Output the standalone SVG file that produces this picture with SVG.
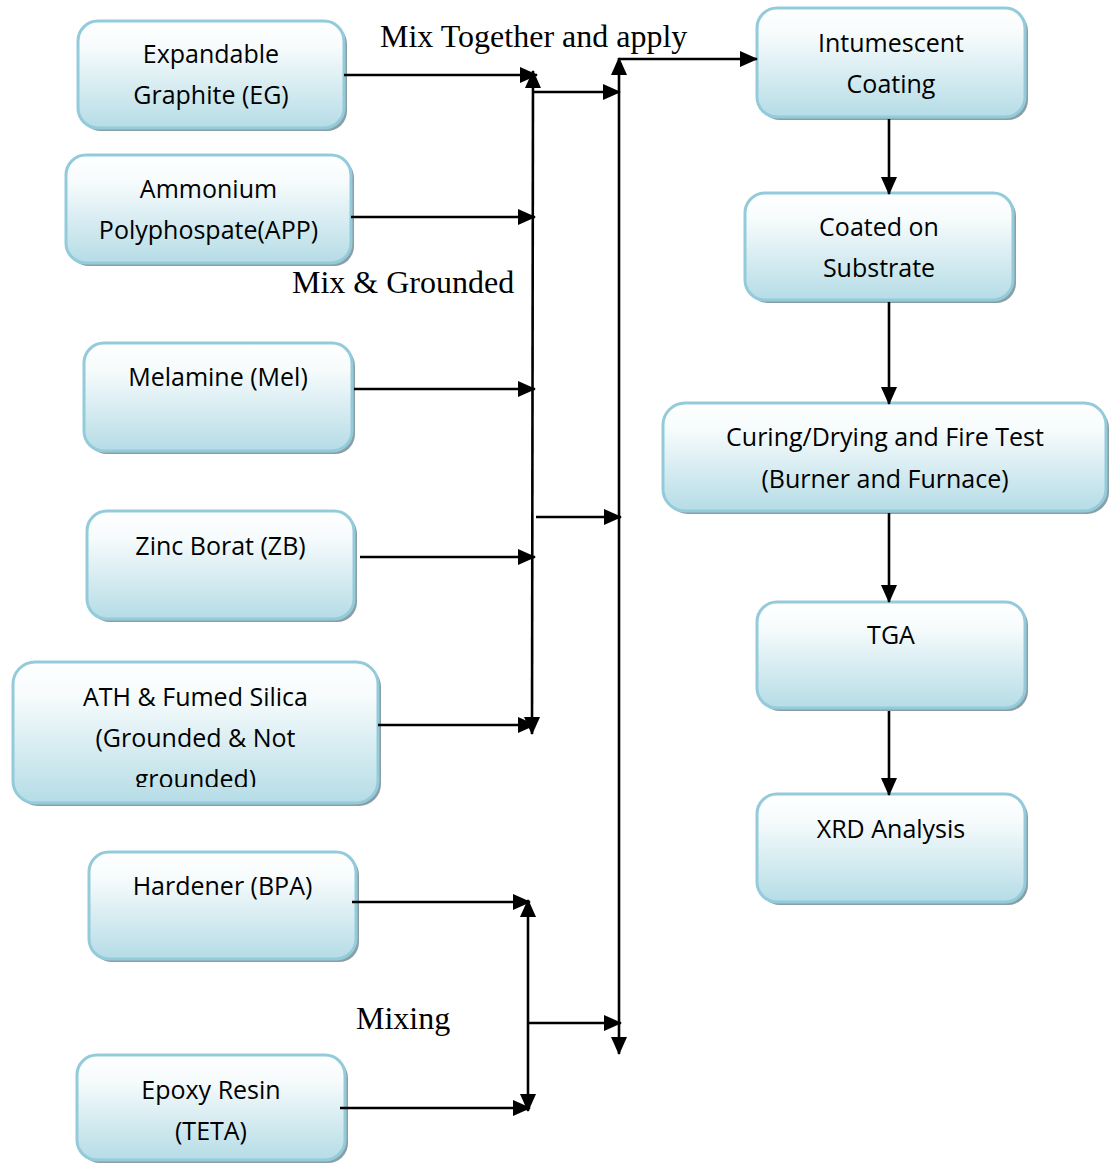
<svg xmlns="http://www.w3.org/2000/svg" width="1112" height="1164" viewBox="0 0 1112 1164">
<defs>
<linearGradient id="g" x1="0" y1="0" x2="0" y2="1">
<stop offset="0" stop-color="#ffffff"/>
<stop offset="0.25" stop-color="#f6fbfc"/>
<stop offset="1" stop-color="#b5dce6"/>
</linearGradient>
<marker id="ah" markerUnits="userSpaceOnUse" markerWidth="18" markerHeight="16" viewBox="0 0 18 16" refX="17" refY="8" orient="auto-start-reverse">
<path d="M0,0 L18,8 L0,16 z" fill="#000"/>
</marker>
<clipPath id="athclip"><rect x="0" y="660" width="400" height="127"/></clipPath>
</defs>
<style>
.sh{fill:#8a9ea6;}
.bx{fill:url(#g);stroke:#93cbdb;stroke-width:3;}
.t{font-family:"Open Sans","Noto Sans",sans-serif;font-size:25px;fill:#000;text-anchor:middle;}
.s{font-family:"Liberation Serif","Times New Roman",serif;font-size:32px;fill:#000;}
.c{fill:none;stroke:#000;stroke-width:2.6;}
.a{marker-end:url(#ah);}
.b{marker-start:url(#ah);marker-end:url(#ah);}
</style>

<g id="n-eg">
<rect class="sh" x="81" y="24" width="266" height="107" rx="20"/>
<rect class="bx" x="78" y="21" width="266" height="107" rx="20"/>
<text class="t" x="211" y="63">Expandable</text>
<text class="t" x="211" y="104">Graphite (EG)</text>
</g>
<g id="n-app">
<rect class="sh" x="69" y="158" width="285" height="108" rx="20"/>
<rect class="bx" x="66" y="155" width="285" height="108" rx="20"/>
<text class="t" x="208.5" y="198">Ammonium</text>
<text class="t" x="208.5" y="239">Polyphospate(APP)</text>
</g>
<g id="n-mel">
<rect class="sh" x="87" y="346" width="268" height="108" rx="20"/>
<rect class="bx" x="84" y="343" width="268" height="108" rx="20"/>
<text class="t" x="218" y="386">Melamine (Mel)</text>
</g>
<g id="n-zb">
<rect class="sh" x="90" y="514" width="267" height="108" rx="20"/>
<rect class="bx" x="87" y="511" width="267" height="108" rx="20"/>
<text class="t" x="220.5" y="555">Zinc Borat (ZB)</text>
</g>
<g id="n-ath">
<rect class="sh" x="16" y="665" width="365" height="141" rx="22"/>
<rect class="bx" x="13" y="662" width="365" height="141" rx="22"/>
<g clip-path="url(#athclip)">
<text class="t" x="195.5" y="706">ATH &amp; Fumed Silica</text>
<text class="t" x="195.5" y="747">(Grounded &amp; Not</text>
<text class="t" x="195.5" y="788">grounded)</text>
</g>
</g>
<g id="n-bpa">
<rect class="sh" x="92" y="855" width="267" height="107" rx="20"/>
<rect class="bx" x="89" y="852" width="267" height="107" rx="20"/>
<text class="t" x="222.5" y="895">Hardener (BPA)</text>
</g>
<g id="n-epoxy">
<rect class="sh" x="80" y="1058" width="268" height="105" rx="20"/>
<rect class="bx" x="77" y="1055" width="268" height="105" rx="20"/>
<text class="t" x="211" y="1099">Epoxy Resin</text>
<text class="t" x="211" y="1140">(TETA)</text>
</g>

<g id="n-intumescent">
<rect class="sh" x="760" y="11" width="268" height="109" rx="20"/>
<rect class="bx" x="757" y="8" width="268" height="109" rx="20"/>
<text class="t" x="891" y="52">Intumescent</text>
<text class="t" x="891" y="93">Coating</text>
</g>
<g id="n-coated">
<rect class="sh" x="748" y="196" width="268" height="107" rx="20"/>
<rect class="bx" x="745" y="193" width="268" height="107" rx="20"/>
<text class="t" x="879" y="236">Coated on</text>
<text class="t" x="879" y="277">Substrate</text>
</g>
<g id="n-curing">
<rect class="sh" x="666" y="406" width="443" height="108" rx="22"/>
<rect class="bx" x="663" y="403" width="443" height="108" rx="22"/>
<text class="t" x="885" y="446">Curing/Drying and Fire Test</text>
<text class="t" x="885" y="488">(Burner and Furnace)</text>
</g>
<g id="n-tga">
<rect class="sh" x="760" y="605" width="268" height="106" rx="20"/>
<rect class="bx" x="757" y="602" width="268" height="106" rx="20"/>
<text class="t" x="891" y="644">TGA</text>
</g>
<g id="n-xrd">
<rect class="sh" x="760" y="797" width="268" height="108" rx="20"/>
<rect class="bx" x="757" y="794" width="268" height="108" rx="20"/>
<text class="t" x="891" y="838">XRD Analysis</text>
</g>

<g id="labels">
<text class="s" x="380" y="47">Mix Together and apply</text>
<text class="s" x="292" y="293">Mix &amp; Grounded</text>
<text class="s" x="356" y="1029">Mixing</text>
</g>

<g id="connectors">
<line class="c a" x1="344" y1="75" x2="537" y2="75"/>
<line class="c a" x1="351" y1="217" x2="535" y2="217"/>
<line class="c a" x1="354" y1="389" x2="535" y2="389"/>
<line class="c a" x1="360" y1="557" x2="535" y2="557"/>
<line class="c a" x1="378" y1="725" x2="535" y2="725"/>
<line class="c b" x1="533" y1="71" x2="532" y2="734"/>
<line class="c a" x1="533" y1="92" x2="620" y2="92"/>
<line class="c a" x1="536" y1="517" x2="621" y2="517"/>
<line class="c b" x1="619" y1="58" x2="619" y2="1054"/>
<line class="c a" x1="619" y1="59" x2="757" y2="59"/>
<line class="c a" x1="352" y1="902" x2="530" y2="902"/>
<line class="c a" x1="340" y1="1108" x2="530" y2="1108"/>
<line class="c b" x1="528" y1="900" x2="528" y2="1111"/>
<line class="c a" x1="528" y1="1023" x2="621" y2="1023"/>
<line class="c a" x1="889" y1="119" x2="889" y2="194"/>
<line class="c a" x1="889" y1="302" x2="889" y2="404"/>
<line class="c a" x1="889" y1="513" x2="889" y2="602"/>
<line class="c a" x1="889" y1="711" x2="889" y2="795"/>
</g>
</svg>
